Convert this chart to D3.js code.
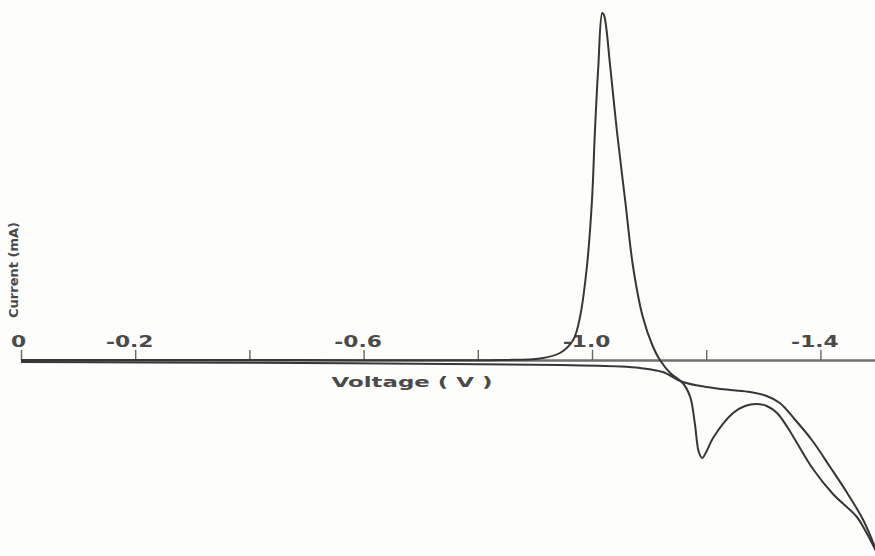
<!DOCTYPE html>
<html>
<head>
<meta charset="utf-8">
<script src="https://cdn.jsdelivr.net/npm/d3@7"></script>
<style>
  body { margin: 0; background: #fdfdfb; }
  svg { display: block; }
  .curve { fill: none; stroke: #363636; stroke-width: 2; }
  .axis-labels { fill: #4a4a4a; font-family: "DejaVu Sans", sans-serif; }
</style>
</head>
<body>
<svg id="chart"></svg>
<script>
// forward sweep (0 V -> -1.5 V), voltage in V, current in mA
var forwardV = [0, -0.226, -0.489, -0.751, -0.944, -1.049, -1.084, -1.124, -1.159, -1.201,
                -1.242, -1.277, -1.306, -1.329, -1.356, -1.385, -1.417, -1.447, -1.475, -1.499];
var forwardI = [-0.02, -0.025, -0.03, -0.04, -0.05, -0.065, -0.08, -0.12, -0.22, -0.27,
                -0.30, -0.32, -0.36, -0.43, -0.60, -0.80, -1.07, -1.33, -1.60, -1.92];

// reverse sweep (-1.5 V -> 0 V)
var reverseV = [-1.499, -1.480, -1.464, -1.422, -1.387, -1.359, -1.342, -1.324, -1.306, -1.287,
                -1.268, -1.247, -1.212, -1.200, -1.193, -1.187, -1.180, -1.172, -1.159, -1.137,
                -1.119, -1.107, -1.089, -1.072, -1.058, -1.044, -1.032, -1.021, -1.018, -1.011,
                -1.005, -1.000, -0.991, -0.979, -0.967, -0.944, -0.909, -0.839, -0.489, 0];
var reverseI = [-1.93, -1.72, -1.57, -1.34, -1.09, -0.83, -0.67, -0.53, -0.46, -0.44,
                -0.46, -0.53, -0.78, -0.92, -0.98, -0.92, -0.63, -0.37, -0.23, -0.13,
                0, 0.13, 0.43, 0.93, 1.60, 2.27, 2.93, 3.45, 3.47, 2.93,
                2.27, 1.60, 0.93, 0.43, 0.20, 0.07, 0.015, 0, 0, 0];

var tickValues = [0, -0.2, -0.4, -0.6, -0.8, -1.0, -1.2, -1.4];
var tickLabels = ["0", "-0.2", "", "-0.6", "", "-1.0", "", "-1.4"];

var width = 875, height = 556;

var svg = d3.select("#chart")
    .attr("width", width)
    .attr("height", height);

var xScale = d3.scaleLinear().domain([0, -1.5]).range([21, 877.5]);
var yScale = d3.scaleLinear().domain([-1.96, 3.6]).range([556, 0]);

// axis along zero current
var xAxis = svg.append("g")
    .attr("class", "x-axis")
    .attr("transform", "translate(0," + yScale(0) + ")")
    .call(d3.axisTop(xScale)
        .tickValues(tickValues)
        .tickSize(10)
        .tickSizeOuter(0)
        .tickPadding(3)
        .tickFormat(function(d, i) { return tickLabels[i]; })
    );

xAxis.select(".domain")
    .attr("stroke", "#707070")
    .attr("stroke-width", 2.6);

xAxis.selectAll(".tick line")
    .attr("stroke", "#666")
    .attr("stroke-width", 1.4);

xAxis.selectAll(".tick text")
    .attr("class", "axis-labels")
    .style("font-size", "15px")
    .style("font-weight", "600")
    .attr("dx", function(d, i) { return i === 0 ? -3 : -6; })
    .each(function() {
        var t = d3.select(this);
        if (t.text() !== "") {
            var w = this.getComputedTextLength();
            t.attr("textLength", w * 1.45).attr("lengthAdjust", "spacingAndGlyphs");
        }
    });

svg.append("text")
    .attr("class", "axis-labels")
    .attr("x", 412)
    .attr("y", 387)
    .style("text-anchor", "middle")
    .style("font-size", "14px")
    .style("font-weight", "600")
    .attr("textLength", 161)
    .attr("lengthAdjust", "spacingAndGlyphs")
    .text("Voltage ( V )");

svg.append("text")
    .attr("class", "axis-labels")
    .attr("transform", "translate(18,270) rotate(-90)")
    .style("text-anchor", "middle")
    .style("font-size", "12px")
    .style("font-weight", "600")
    .attr("textLength", 96)
    .attr("lengthAdjust", "spacingAndGlyphs")
    .text("Current (mA)");

var line = d3.line()
    .x(function(d) { return xScale(d[0]); })
    .y(function(d) { return yScale(d[1]); })
    .curve(d3.curveCatmullRom.alpha(0.5));

var curves = svg.append("g").attr("class", "points-container");

curves.append("path")
    .datum(d3.zip(forwardV, forwardI))
    .attr("class", "curve")
    .attr("d", line);

curves.append("path")
    .datum(d3.zip(reverseV, reverseI))
    .attr("class", "curve")
    .attr("d", line);
</script>
</body>
</html>
